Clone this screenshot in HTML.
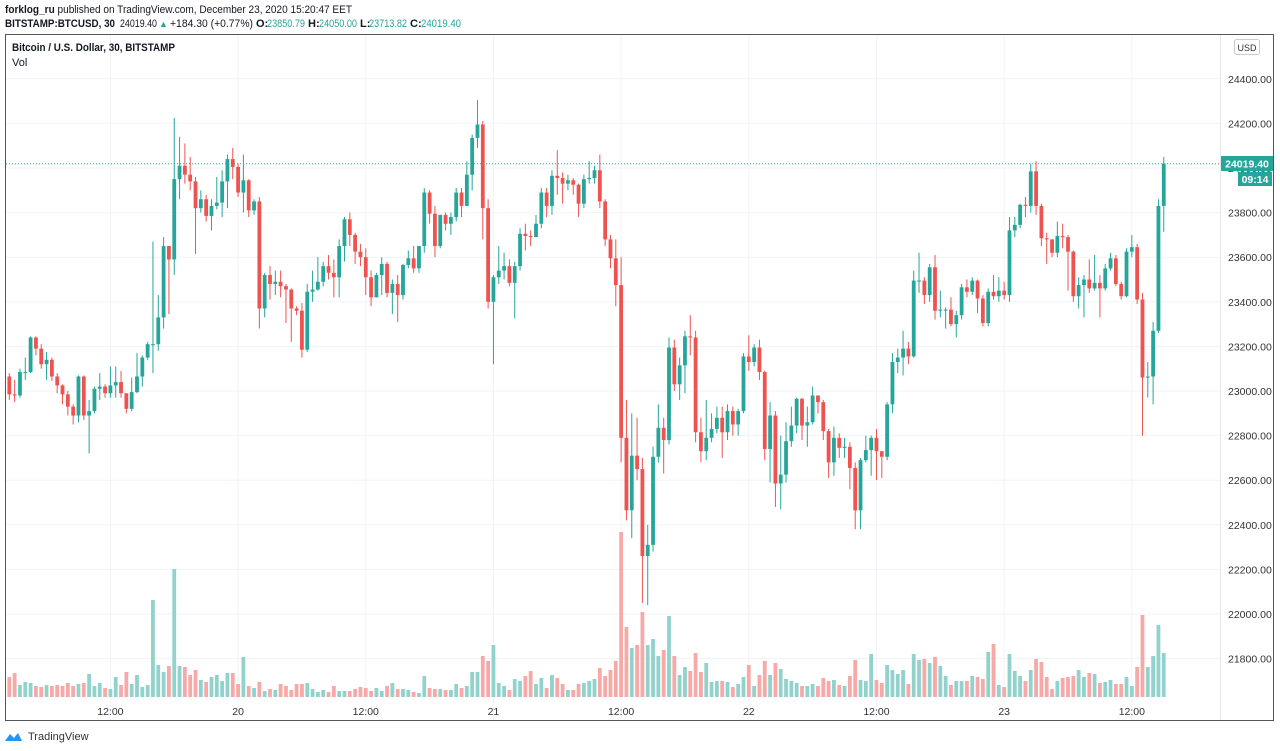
<!DOCTYPE html>
<html><head><meta charset="utf-8"><title>BTCUSD 30m</title>
<style>
html,body{margin:0;padding:0;background:#fff;}
svg{display:block;font-family:"Liberation Sans",sans-serif;}
</style></head>
<body>
<svg id="chart" width="1280" height="751" viewBox="0 0 1280 751" xmlns="http://www.w3.org/2000/svg">
  <rect x="0" y="0" width="1280" height="751" fill="#fff"/>
  <g font-size="11" fill="#131722">
    <text x="5" y="13" textLength="347" lengthAdjust="spacingAndGlyphs"><tspan font-weight="bold">forklog_ru</tspan> published on TradingView.com, December 23, 2020 15:20:47 EET</text>
    <text x="5" y="27" font-weight="bold" textLength="110" lengthAdjust="spacingAndGlyphs">BITSTAMP:BTCUSD, 30</text>
    <text x="120" y="27" textLength="37" lengthAdjust="spacingAndGlyphs">24019.40</text>
    <text x="159" y="27" fill="#26a69a" font-size="9">▲</text>
    <text x="170" y="27" textLength="83" lengthAdjust="spacingAndGlyphs">+184.30 (+0.77%)</text>
    <text x="256" y="27" font-weight="bold">O:</text>
    <text x="267" y="27" fill="#26a69a" textLength="38" lengthAdjust="spacingAndGlyphs">23850.79</text>
    <text x="308" y="27" font-weight="bold">H:</text>
    <text x="319" y="27" fill="#26a69a" textLength="38" lengthAdjust="spacingAndGlyphs">24050.00</text>
    <text x="360" y="27" font-weight="bold">L:</text>
    <text x="369" y="27" fill="#26a69a" textLength="38" lengthAdjust="spacingAndGlyphs">23713.82</text>
    <text x="410" y="27" font-weight="bold">C:</text>
    <text x="421" y="27" fill="#26a69a" textLength="40" lengthAdjust="spacingAndGlyphs">24019.40</text>
  </g>
  <g id="grid"></g>
  <g id="vols"></g>
  <g id="candles"></g>
  <line x1="6" x2="1220" y1="163.7" y2="163.7" stroke="#26a69a" stroke-width="1" stroke-dasharray="1,2"/>
  <rect x="5.5" y="34.5" width="1268" height="686" fill="none" stroke="#555" stroke-width="1"/>
  <line x1="1220.5" x2="1220.5" y1="35" y2="720" stroke="#e8e8e8"/>
  <text x="12" y="51" font-size="11" font-weight="bold" fill="#131722" textLength="163" lengthAdjust="spacingAndGlyphs">Bitcoin / U.S. Dollar, 30, BITSTAMP</text>
  <text x="12" y="66" font-size="11" fill="#131722">Vol</text>
  <g>
    <rect x="1234.5" y="39.5" width="25" height="15" rx="2" fill="#fff" stroke="#ccc"/>
    <text x="1247" y="51" font-size="9" fill="#333" text-anchor="middle">USD</text>
  </g>
  <g id="yaxis" font-size="10.5" fill="#333"></g>
  <g id="xaxis" font-size="10.5" fill="#333"></g>
  <g>
    <rect x="1221" y="156" width="52" height="15" fill="#26a69a"/>
    <text x="1247" y="167.5" font-size="10.5" fill="#fff" text-anchor="middle" font-weight="bold">24019.40</text>
    <rect x="1238" y="172" width="34" height="14" fill="#26a69a"/>
    <text x="1255" y="183" font-size="10.5" fill="#fff" text-anchor="middle" font-weight="bold">09:14</text>
  </g>
  <g>
    <path d="M5 741 L10 734 L14 738 L18 733 L22 741 Z" fill="#2196f3"/>
    <text x="28" y="740" font-size="11" fill="#333">TradingView</text>
  </g>
</svg>
<script>
const closes = [23065,22985,22980,23085,23085,23240,23190,23120,23140,23065,23025,22985,22930,22890,23065,22890,22910,23010,23020,22990,23025,23040,22990,22920,22995,23065,23150,23210,23210,23330,23650,23590,23950,24010,23970,23940,23820,23860,23785,23830,23845,
23940,24040,24005,23890,23945,23810,23850,23370,23520,23480,23490,23470,23455,23370,23360,23185,23445,23455,23490,23560,23530,23510,23650,23770,23700,23625,23600,23510,23420,23520,23570,23440,23480,23430,23565,23595,23550,23650,23890,23795,
23650,23790,23750,23780,23890,23830,23970,24135,24195,23820,23400,23510,23540,23560,23485,23560,23705,23695,23690,23750,23890,23830,23965,23955,23930,23945,23925,23840,23950,23955,23990,23850,23680,23595,23475,22790,22465,22710,22650,
22260,22310,22705,22835,22780,23195,23030,23115,23245,23240,22815,22730,22790,22830,22880,22815,22910,22850,22910,23155,23130,23195,23085,22740,22890,22585,22625,22775,22845,22965,22845,22860,22980,22950,22820,22680,22790,22745,22750,22655,
22465,22690,22735,22790,22730,22705,22940,23130,23150,23190,23155,23495,23495,23430,23555,23360,23365,23365,23300,23340,23465,23445,23495,23415,23305,23445,23425,23450,23430,23720,23745,23835,23830,23985,23830,23685,23680,23620,23695,
23690,23625,23425,23475,23500,23460,23485,23460,23550,23595,23480,23425,23625,23645,23410,23060,23065,23270,23830,24019.4];
const firstOpen = 23140;
const highs = [23160,23080,23050,23100,23150,23245,23245,23210,23175,23150,23080,23030,23000,22940,23070,23070,22960,23020,23080,23030,23110,23110,23090,22990,23060,23170,23160,23220,23670,23430,23690,23650,24225,24140,24110,24050,23960,23900,23880,23860,23960,
23990,24060,24090,24020,24060,23950,23860,23870,23530,23560,23540,23540,23480,23460,23380,23395,23480,23540,23600,23580,23610,23590,23680,23780,23800,23710,23660,23640,23540,23530,23600,23580,23500,23520,23570,23630,23650,23650,23910,23900,
23830,23790,23800,23800,23910,23910,24030,24150,24305,24210,23860,23520,23650,23620,23590,23580,23730,23750,23720,23790,23910,23910,23990,24080,23980,23970,23955,23930,23970,24030,24010,24060,23860,23700,23680,23600,22960,22900,22880,
22700,22400,22750,22940,22880,23240,23230,23150,23270,23340,23270,22880,22960,22900,22930,22930,22940,22930,22920,23170,23250,23210,23230,23090,22950,22910,22800,22860,22930,22970,22970,22930,23020,22980,22960,22830,22840,22810,22790,22770,
22680,22700,22800,22800,22830,22730,22950,23170,23190,23270,23220,23540,23620,23510,23570,23610,23450,23375,23420,23360,23480,23500,23510,23500,23430,23460,23520,23510,23490,23780,23780,23840,23870,24020,24030,23840,23710,23680,23760,
23750,23700,23630,23510,23520,23590,23610,23520,23570,23620,23610,23490,23640,23700,23660,23440,23130,23310,23860,24050];
const lows = [23000,22960,22950,22970,23050,23080,23160,23100,23050,23045,22990,22940,22890,22850,22860,22870,22720,22900,22960,22970,22970,22970,22970,22900,22910,22990,23020,23140,23080,23180,23280,23345,23520,23860,23930,23900,23615,23800,23760,23720,23815,
23780,23820,23950,23870,23800,23780,23790,23280,23330,23410,23430,23420,23305,23220,23340,23150,23175,23400,23450,23470,23500,23420,23420,23580,23650,23570,23560,23430,23380,23420,23430,23420,23345,23310,23410,23550,23530,23530,23620,23750,
23600,23640,23720,23700,23760,23780,23830,23900,24090,23680,23370,23120,23480,23500,23470,23325,23540,23630,23650,23700,23730,23780,23790,23880,23840,23900,23880,23780,23820,23930,23930,23820,23650,23550,23380,22680,22420,22340,22600,
22050,22040,22280,22680,22630,22760,23000,22960,22990,23160,22770,22680,22690,22770,22810,22700,22780,22800,22800,22900,23090,23110,23050,22690,22590,22480,22470,22590,22750,22810,22780,22750,22850,22900,22780,22610,22620,22700,22700,22560,
22380,22380,22680,22620,22600,22610,22690,22900,23080,23070,23120,23150,23440,23390,23400,23320,23330,23280,23290,23240,23320,23420,23430,23350,23290,23290,23410,23400,23410,23400,23690,23730,23780,23800,23790,23650,23570,23600,23600,
23640,23450,23400,23370,23330,23440,23450,23330,23450,23540,23470,23410,23420,23600,23390,22800,22970,22940,23260,23713.82];
const volumes = [18,20,24,12,15,14,11,10,12,11,12,11,14,11,13,14,23,11,14,9,8,20,12,25,13,22,10,12,97,32,25,31,128,31,30,22,27,17,15,20,22,16,24,24,13,40,11,9,15,6,8,7,13,11,7,13,13,14,8,5,7,5,11,6,6,6,8,10,9,6,9,6,11,14,8,
8,7,5,4,21,9,8,8,7,7,13,9,11,25,25,41,36,52,14,11,7,18,16,21,26,13,19,9,22,19,13,7,7,13,14,16,18,29,21,27,36,165,70,49,52,85,52,58,41,47,81,41,22,30,26,44,25,34,15,16,16,15,10,13,20,32,11,22,36,22,34,28,18,16,14,
11,11,13,11,19,16,17,12,11,21,37,17,16,43,17,14,32,27,23,27,13,43,37,38,34,40,31,21,12,16,16,16,21,20,18,45,53,12,10,43,26,21,16,27,38,35,20,8,16,19,20,21,27,20,24,23,14,15,17,13,13,20,11,30,82,30,41,72,44];
const priceTicks = [24400,24200,24000,23800,23600,23400,23200,23000,22800,22600,22400,22200,22000,21800];
const timeTickIdx = [20,44,68,92,116,140,164,188,212];
const timeTickLabels = ["12:00","20","12:00","21","12:00","22","12:00","23","12:00"];

const NS = "http://www.w3.org/2000/svg";
const xOf = i => 4 + i * 5.32;
const yOf = p => 168 + (24000 - p) * 0.223;
const volBase = 697;
const vOf = v => volBase - v * 1.0;
function mk(tag, attrs, parent) { const e = document.createElementNS(NS, tag); for (const k in attrs) e.setAttribute(k, attrs[k]); parent.appendChild(e); return e; }

const grid = document.getElementById('grid');
const yaxis = document.getElementById('yaxis');
const xaxis = document.getElementById('xaxis');
priceTicks.forEach(p => {
  const y = yOf(p);
  const gl = mk('line', {x1: 6, x2: 1222, y1: y, y2: y, stroke: '#f0f3fa', 'stroke-width': 1}, grid);
  
  
  const t = mk('text', {x: 1228, y: y + 4}, yaxis);
  t.textContent = p.toFixed(2);
  
  
});
timeTickIdx.forEach((idx, k) => {
  const x = xOf(idx);
  const gl = mk('line', {x1: x, x2: x, y1: 35, y2: 720, stroke: '#f0f3fa', 'stroke-width': 1}, grid);
  
  
  const t = mk('text', {x: x, y: 715, 'text-anchor': 'middle'}, xaxis);
  t.textContent = timeTickLabels[k];
  
  
});

const cg = document.getElementById('candles');
const vg = document.getElementById('vols');
for (let i = 0; i < closes.length; i++) {
  const o = i === 0 ? firstOpen : closes[i - 1];
  const c = closes[i];
  const up = c >= o;
  const col = up ? '#26a69a' : '#ef5350';
  const x = xOf(i);
  if (x < 6) continue;
  const vb = mk('rect', {x: x - 1.9, y: vOf(volumes[i]), width: 3.8, height: volumes[i] * 1.0, fill: up ? '#92d2cc' : '#f7a9a7'}, vg);
  
  
  const w = mk('line', {x1: x, x2: x, y1: yOf(highs[i]), y2: yOf(lows[i]), stroke: col, 'stroke-width': 1}, cg);
  
  
  const top = yOf(Math.max(o, c)), bot = yOf(Math.min(o, c));
  const b = mk('rect', {x: x - 1.9, y: top, width: 3.8, height: Math.max(1, bot - top), fill: col}, cg);
  
  
}
</script>
</body></html>
